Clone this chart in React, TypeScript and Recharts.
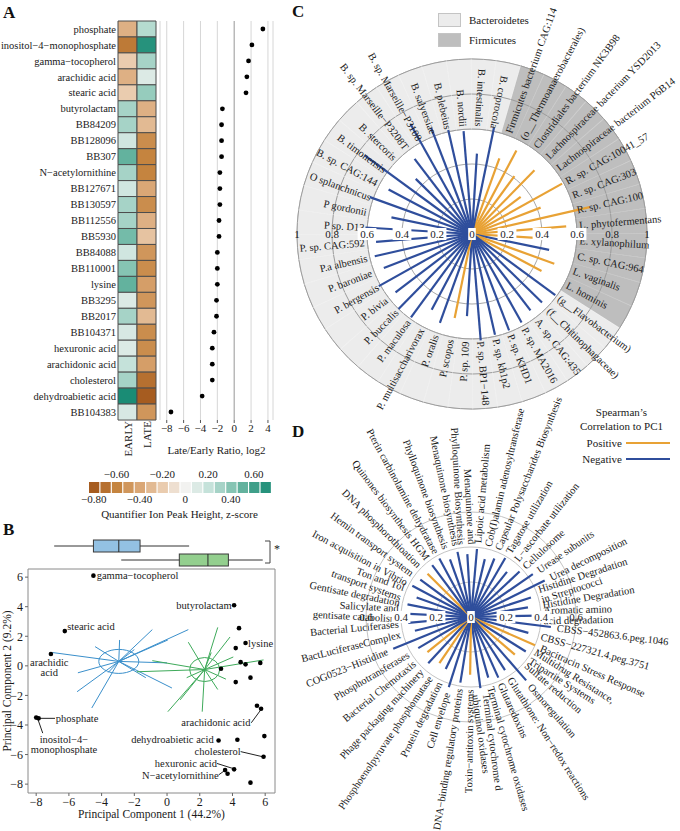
import React from 'react';
import {
  BarChart, Bar, XAxis, YAxis, Cell, ScatterChart, Scatter, CartesianGrid, ReferenceLine,
  ReferenceArea, ReferenceDot, ComposedChart, RadialBarChart, RadialBar,
  PolarAngleAxis, PolarRadiusAxis, PolarGrid, Label,
} from 'recharts';

const FONT = '"Liberation Serif", "Times New Roman", serif';
const BLUE = '#2F4E9C';
const ORANGE = '#E8A235';
const TXT = '#1a1a1a';

// ---------------- Panel A data ----------------
const A_NAMES = ['phosphate', 'inositol−4−monophosphate', 'gamma−tocopherol', 'arachidic acid', 'stearic acid', 'butyrolactam', 'BB84209', 'BB128096', 'BB307', 'N−acetylornithine', 'BB127671', 'BB130597', 'BB112556', 'BB5930', 'BB84088', 'BB110001', 'lysine', 'BB3295', 'BB2017', 'BB104371', 'hexuronic acid', 'arachidonic acid', 'cholesterol', 'dehydroabietic acid', 'BB104383'];
const A_Z_EARLY = [-0.35, -0.65, -0.2, -0.35, -0.2, 0.3, 0.3, 0.15, 0.5, 0.3, 0.15, 0.3, 0.3, 0.45, 0.15, 0.4, 0.5, 0.1, 0.3, 0.12, 0.1, 0.2, 0.3, 0.75, 0.12];
const A_Z_LATE = [0.25, 0.7, 0.3, 0.1, 0.35, -0.35, -0.3, -0.55, -0.6, -0.6, -0.4, -0.55, -0.35, -0.25, -0.5, -0.55, -0.45, -0.5, -0.3, -0.55, -0.55, -0.45, -0.7, -0.8, -0.5];
const A_LOG2 = [3.4, 2.1, 1.7, 1.5, 1.4, -1.4, -1.5, -1.5, -1.5, -1.7, -1.7, -1.7, -1.8, -1.8, -2.0, -2.0, -2.0, -2.1, -2.1, -2.4, -2.6, -2.6, -2.6, -3.8, -7.5];
const A_COLS = ['EARLY', 'LATE'];
const A_RATIO_TICKS = [-8, -6, -4, -2, 0, 2, 4];
const CBAR_CENTERS = [-0.8, -0.7, -0.6, -0.5, -0.4, -0.3, -0.2, -0.1, 0, 0.1, 0.2, 0.3, 0.4, 0.5, 0.6, 0.7];
const CBAR_TOP_TICKS = [-0.6, -0.2, 0.2, 0.6];
const CBAR_BOT_TICKS = [-0.8, -0.4, 0, 0.4];

// ---------------- Panel B data ----------------
const PCA_NAMES = ['gamma−tocopherol', 'butyrolactam', 'stearic acid', 'BB84209', 'lysine', 'BB128096', 'arachidic acid', 'BB307', 'BB127671', 'BB130597', 'BB112556', 'BB5930', 'BB84088', 'BB110001', 'arachidonic acid', 'phosphate', 'inositol−4−monophosphate', 'BB3295', 'dehydroabietic acid', 'BB2017', 'cholesterol', 'hexuronic acid', 'N−acetylornithine', 'BB104371', 'BB104383'];
const PC1 = [-4.5, 4.1, -6.25, 4.4, 4.8, 4.2, -7.1, 4.5, 4.8, 5.7, 3.3, 4.2, 5.1, 5.5, 5.75, -8.0, -7.85, 5.95, 3.15, 4.3, 5.9, 4.1, 3.55, 3.7, 5.1];
const PC2 = [6.1, 4.1, 2.35, 2.55, 1.55, 1.2, 0.8, 0.25, 0.1, 0.2, -0.2, -1.1, -0.8, -2.7, -2.9, -3.5, -3.55, -4.75, -5.05, -5.0, -6.15, -7.0, -7.05, -7.3, -7.9];

const LATE_CENTER = { x: -2.95, y: 0.3 };
const LATE_PC1 = [-7.0, -5.45, -5.5, -4.6, -3.6, -2.9, -1.3, 0.3, 0.0, 0.05, -0.9, 1.3, -4.4, -2.0];
const LATE_PC2 = [0.9, -0.47, -1.75, -2.85, -0.45, 1.75, -0.8, -1.5, 0.2, 1.75, 2.45, 2.45, 1.3, 1.1];
const EARLY_CENTER = { x: 2.3, y: -0.25 };
const EARLY_PC1 = [0.05, 2.15, 3.1, 5.9, -0.9, -1.85, 4.05, 1.3, 0.8, 3.1, 3.85, 2.7, 1.2, 3.6];
const EARLY_PC2 = [-3.1, -3.1, -1.6, 0.4, 0.35, -0.4, 0.6, 1.6, -2.3, 2.6, 1.95, 0.9, -0.8, -0.9];

const BOX_GROUPS = ['LATE', 'EARLY'];
const BOX_MIN = [-6.9, -2.8];
const BOX_Q1 = [-4.5, 0.75];
const BOX_MED = [-2.95, 2.5];
const BOX_Q3 = [-1.65, 3.75];
const BOX_MAX = [1.35, 5.85];
const PC_TICKS = [-8, -6, -4, -2, 0, 2, 4, 6];

const PCA_LABELS = [
  { text: 'gamma−tocopherol', x: -4.3, y: 6.1, anchor: 'start' },
  { text: 'butyrolactam', x: 3.95, y: 4.1, anchor: 'end' },
  { text: 'stearic acid', x: -6.1, y: 2.65, anchor: 'start' },
  { text: 'lysine', x: 4.95, y: 1.55, anchor: 'start' },
  { text: 'arachidic\nacid', x: -7.2, y: -0.1, anchor: 'middle' },
  { text: 'phosphate', x: -6.8, y: -3.55, anchor: 'start' },
  { text: 'inositol−4−\nmonophosphate', x: -6.3, y: -5.3, anchor: 'middle' },
  { text: 'arachidonic acid', x: 5.1, y: -3.85, anchor: 'end' },
  { text: 'dehydroabietic acid', x: 2.85, y: -4.95, anchor: 'end' },
  { text: 'cholesterol', x: 4.5, y: -5.8, anchor: 'end' },
  { text: 'hexuronic acid', x: 3.05, y: -6.6, anchor: 'end' },
  { text: 'N−acetylornithine', x: 3.15, y: -7.38, anchor: 'end' },
];
const PCA_LEADERS = [
  [-7.75, -3.55, -6.85, -3.55],
  [-7.9, -3.6, -7.6, -4.55],
  [5.75, -2.95, 5.15, -3.85],
  [5.85, -6.15, 4.5, -5.8],
  [3.05, -6.6, 4.05, -6.95],
  [3.15, -7.38, 3.5, -7.1],
];

// ---------------- Panel C data ----------------
const C_TAXA = ['Firmicutes bacterium CAG:114', '(o__Thermoanaerobacterales)', 'Clostridiales bacterium NK3B98', 'Lachnospiraceae bacterium YSD2013', 'Lachnospiraceae bacterium P6B14', 'R. sp. CAG:10041_57', 'R. sp. CAG:303', 'R. sp. CAG:100', 'L. phytofermentans', 'E. xylanophilum', 'C. sp. CAG:964', 'L. vaginalis', 'L. hominis',
  '(g__Flavobacterium)', '(f__Chitinophagaceae)', 'A. sp. CAG:435', 'P. sp. MA2016', 'P. sp. KHD1', 'P. sp. kh1p2', 'P. sp. BP1−148', 'P. sp. 109', 'P. scopos', 'P. oralis', 'P. multisaccharivorax', 'P. maculosa', 'P. buccalis', 'P. bivia', 'P. bergensis', 'P. baroniae', 'P.a albensis', 'P. sp. CAG:592', 'P sp. D13', 'P gordonii', 'O splanchnicus', 'B. sp. CAG:144', 'B. timonensis', 'B. stercoris', 'B. sp. Marseille−P3208T', 'B. sp. Marseille−P3108', 'B. salyersiae', 'B. plebeius', 'B. nordii', 'B. intestinalis', 'B. coprocola'];
const C_PHYLUM = ['Firmicutes', 'Firmicutes', 'Firmicutes', 'Firmicutes', 'Firmicutes', 'Firmicutes', 'Firmicutes', 'Firmicutes', 'Firmicutes', 'Firmicutes', 'Firmicutes', 'Firmicutes', 'Firmicutes',
  'Bacteroidetes', 'Bacteroidetes', 'Bacteroidetes', 'Bacteroidetes', 'Bacteroidetes', 'Bacteroidetes', 'Bacteroidetes', 'Bacteroidetes', 'Bacteroidetes', 'Bacteroidetes', 'Bacteroidetes', 'Bacteroidetes', 'Bacteroidetes', 'Bacteroidetes', 'Bacteroidetes', 'Bacteroidetes', 'Bacteroidetes', 'Bacteroidetes', 'Bacteroidetes', 'Bacteroidetes', 'Bacteroidetes', 'Bacteroidetes', 'Bacteroidetes', 'Bacteroidetes', 'Bacteroidetes', 'Bacteroidetes', 'Bacteroidetes', 'Bacteroidetes', 'Bacteroidetes', 'Bacteroidetes', 'Bacteroidetes'];
const C_RHO = [0.46, 0.54, 0.41, 0.51, 0.35, 0.59, 0.42, 0.69, 0.54, 0.43, -0.45, 0.5, 0.45,
  -0.59, -0.56, -0.55, -0.58, -0.59, -0.59, -0.61, -0.47, 0.49, -0.54, -0.49, -0.59, -0.6, -0.55, -0.61, -0.54, -0.57, -0.55, -0.61, -0.47, -0.62, -0.54, -0.76, -0.45, -0.54, -0.72, -0.65, -0.61, -0.59, -0.46, -0.62];
const PHYLA = ['Bacteroidetes', 'Firmicutes'];
const RADIAL_TICKS_C = [0, 0.2, 0.4, 0.6, 0.8, 1];

// ---------------- Panel D data ----------------
const D_FUNCS = ['Lipoic acid metabolism', 'Cob(I)alamin adenosyltransferase', 'Capsular Polysaccharides Biosynthesis', 'Tagatose utilization', 'L−ascorbate utilization', 'Cellulosome', 'Urease subunits', 'Urea decomposition', 'Histidine Degradation\nin Streptococci', 'Histidine Degradation', 'Aromatic amino\nacid degradation', 'CBSS−452863.6.peg.1046', 'CBSS−227321.4.peg.3751', 'Bacitracin Stress Response', 'Multidrug Resistance,\nTripartite Systems', 'Sulfate reduction', 'Osmoregulation', 'Glutathione: Non−redox reactions', 'Glutaredoxins', 'Terminal cytochrome oxidases', 'Terminal cytochrome d\nubiquinol oxidases', 'Toxin−antitoxin systems', 'DNA−binding regulatory proteins', 'Cell envelope', 'Protein degradation', 'Phosphoenolpyruvate phosphomutase', 'Phage packaging machinery', 'Bacterial Chemotaxis', 'Phosphotransferases', 'COG0523−Histidine', 'BactLuciferaseComplex', 'Bacterial Luciferases', 'Salicylate and\ngentisate catabolism', 'Gentisate degradation', 'Ton and Tol\ntransport systems', 'Iron acquisition in Vibrio', 'Hemin transport system', 'DNA phosphorothioation', 'Quinones biosynthesis HGM', 'Pterin carbinolamine dehydratase', 'Phylloquinone biosynthesis', 'Menaquinone biosynthesis', 'Menaquinone and\nPhylloquinone Biosynthesis'];
const D_RHO = [-0.39, -0.34, -0.36, -0.39, -0.33, -0.38, -0.43, -0.47, -0.36, -0.33, -0.38, -0.46, -0.34, 0.4, -0.37, 0.33, -0.48, -0.36, -0.38, -0.36, -0.41, 0.33, -0.38, -0.42, -0.33, 0.32, -0.36, 0.32, -0.35, -0.48, -0.33, -0.36, -0.38, -0.37, -0.33, -0.38, -0.36, 0.35, -0.37, -0.38, -0.35, -0.38, -0.36];
const RADIAL_TICKS_D = [0, 0.2, 0.4, 0.6];
const D_LEGEND = [{ label: 'Positive', color: ORANGE }, { label: 'Negative', color: BLUE }];

// ---------------- helpers ----------------
const BROWN_STOPS = ['#F2F2F0', '#EACCAF', '#DAA776', '#C5843F', '#A65C20'];
const TEAL_STOPS = ['#F2F2F0', '#C5E2DA', '#86C4B3', '#3F9F89', '#0D856E'];
function hexToRgb(h: string) { const n = parseInt(h.slice(1), 16); return [(n >> 16) & 255, (n >> 8) & 255, n & 255]; }
function mixHex(a: string, b: string, t: number) {
  const A = hexToRgb(a), B = hexToRgb(b);
  const c = A.map((v, i) => Math.round(v + (B[i] - v) * t));
  return 'rgb(' + c.join(',') + ')';
}
function zColor(v: number) {
  const stops = v < 0 ? BROWN_STOPS : TEAL_STOPS;
  const s = Math.min(Math.abs(v) / 0.2, stops.length - 1.0001);
  const i = Math.floor(s);
  return mixHex(stops[i], stops[i + 1], s - i);
}
const fmtMinus = (v: number) => (v < 0 ? '−' + Math.abs(v) : String(v));
const fmtBar = (v: number) => (Math.abs(v) < 1e-9 ? '0' : (v < 0 ? '−' : '') + Math.abs(v).toFixed(2));

const aRows = A_NAMES.map((name, i) => ({ name, early: A_Z_EARLY[i], late: A_Z_LATE[i], cellE: 1, cellL: 1, ratio: A_LOG2[i] }));
const cbarRows = CBAR_CENTERS.map((c) => ({ c, one: 1 }));
const CBAR_ALL_TICKS = [...CBAR_BOT_TICKS, ...CBAR_TOP_TICKS].sort((a, b) => a - b);
const pcaPoints = PCA_NAMES.map((name, i) => ({ name, x: PC1[i], y: PC2[i] }));
const boxRows = BOX_GROUPS.map((group, i) => ({ group, range: [BOX_Q1[i], BOX_Q3[i]], q1: BOX_Q1[i], med: BOX_MED[i], q3: BOX_Q3[i], min: BOX_MIN[i], max: BOX_MAX[i] }));
const BOX_FILL: Record<string, string> = { LATE: '#93C1E3', EARLY: '#93CF8E' };
const lateSpokes = LATE_PC1.map((x, i) => ({ x, y: LATE_PC2[i] }));
const earlySpokes = EARLY_PC1.map((x, i) => ({ x, y: EARLY_PC2[i] }));
const cRows = C_TAXA.map((name, i) => ({ name, rho: C_RHO[i], mag: Math.abs(C_RHO[i]), phylum: C_PHYLUM[i] }));
const dRows = D_FUNCS.map((name, i) => ({ name, rho: D_RHO[i], mag: Math.abs(D_RHO[i]) }));

// geometry (style)
const C_W = 400, C_H = 440, C_CX = 192, C_CY = 234, C_R = 175;
const C_START = 74;
const C_STEP = 360 / C_TAXA.length;
const D_TOP = 380;
const D_W = 400, D_H = 451, D_CX = 191, D_CY = 617 - D_TOP, D_R = 175;
const D_START = 89;
const D_STEP = 360 / D_FUNCS.length;
// compensate recharts' placement of the first centric band relative to startAngle
const C_CHART_START = C_START - C_STEP;
const D_CHART_START = D_START - D_STEP;
// number of categories whose labels read outward (right-hand side, from the start going clockwise to the bottom)
const C_RIGHT_COUNT = Math.round((C_START + 90) / C_STEP);
const D_RIGHT_COUNT = Math.round((D_START + 90) / D_STEP);
const PHYLUM_FILL: Record<string, string> = { Bacteroidetes: '#ECECEC', Firmicutes: '#BEBEBE' };

const normAngle = (a: number) => ((((a % 360) + 540) % 360) - 180);
function polar(cx: number, cy: number, r: number, a: number) {
  const rad = (-a * Math.PI) / 180;
  return [cx + r * Math.cos(rad), cy + r * Math.sin(rad)];
}
function arcD(cx: number, cy: number, r: number, a0: number, a1: number) {
  const [x0, y0] = polar(cx, cy, r, a0);
  const [x1, y1] = polar(cx, cy, r, a1);
  const sweep = a1 < a0 ? 1 : 0;
  return `M${x0},${y0} A${r},${r} 0 0 ${sweep} ${x1},${y1}`;
}
function annulusD(cx: number, cy: number, r0: number, r1: number, a0: number, a1: number) {
  const [x0, y0] = polar(cx, cy, r1, a0);
  const [x1, y1] = polar(cx, cy, r1, a1);
  const [x2, y2] = polar(cx, cy, r0, a1);
  const [x3, y3] = polar(cx, cy, r0, a0);
  const sweep = a1 < a0 ? 1 : 0;
  return `M${x0},${y0} A${r1},${r1} 0 0 ${sweep} ${x1},${y1} L${x2},${y2} A${r0},${r0} 0 0 ${1 - sweep} ${x3},${y3} Z`;
}

const rowOf = (p: any) => (p.payload && p.payload.name !== undefined ? p.payload : p);

const CRingShape = (p: any) => {
  const row = rowOf(p);
  const fill = PHYLUM_FILL[row.phylum];
  const a0 = p.startAngle, a1 = p.endAngle;
  return (
    <g>
      <path d={annulusD(p.cx, p.cy, C_R * 0.6, C_R, a0, a1)} fill={fill} stroke={fill} strokeWidth={0.6} />
      {[0.6, 0.8, 1].map((f) => <path key={f} d={arcD(p.cx, p.cy, C_R * f, a0, a1)} fill="none" stroke="#9c9c9c" strokeWidth={1} />)}
    </g>
  );
};

function makeSpokeShape(names: string[], rightCount: number, labelRadius: (outerPx: number) => number, fontSize: number) {
  return (p: any) => {
    const row = rowOf(p);
    const mid = (p.startAngle + p.endAngle) / 2;
    const [x2, y2] = polar(p.cx, p.cy, p.outerRadius, mid);
    const i = names.indexOf(row.name);
    const right = i < rightCount;
    const a = normAngle(mid);
    const r = labelRadius(p.outerRadius);
    const [lx, ly] = polar(p.cx, p.cy, r, mid);
    const rot = right ? -a : 180 - a;
    const lines = String(row.name).split('\n');
    return (
      <g>
        <line x1={p.cx} y1={p.cy} x2={x2} y2={y2} stroke={row.rho > 0 ? ORANGE : BLUE} strokeWidth={2.2} />
        <text x={lx} y={ly} transform={`rotate(${rot}, ${lx}, ${ly})`} textAnchor={right ? 'start' : 'end'} fontSize={fontSize} fill={TXT} fontFamily={FONT}>
          {lines.map((ln, k) => (
            <tspan key={k} x={lx} dy={k === 0 ? `${0.35 - (lines.length - 1) * 0.5}em` : '1em'}>{ln}</tspan>
          ))}
        </text>
      </g>
    );
  };
}
const CSpokeShape = makeSpokeShape(C_TAXA, C_RIGHT_COUNT, () => C_R * 0.615, 10.5);
const DSpokeShape = makeSpokeShape(D_FUNCS, D_RIGHT_COUNT, (o) => Math.max(o, 0.38 * D_R) + 0.035 * D_R, 10.5);

function makeRadTick(cx: number, bgMax: number) {
  return (props: any) => {
    const { x, y, payload } = props;
    const v = payload.value as number;
    const label = v === 0 ? '0' : String(v);
    const xs = v === 0 ? [x] : [x, 2 * cx - x];
    const w = label.length * 5.6 + 2;
    return (
      <g>
        {xs.map((xx: number, k: number) => (
          <g key={k}>
            {v <= bgMax && <rect x={xx - w / 2} y={y - 6} width={w} height={12} fill="#fff" />}
            <text x={xx} y={y} dy="0.35em" textAnchor="middle" fontSize={11} fill={TXT} fontFamily={FONT}>{label}</text>
          </g>
        ))}
      </g>
    );
  };
}

const ColTick = (p: any) => {
  const x = p.x + 4;
  const y = p.y - 7;
  return (
    <text x={x} y={y} transform={`rotate(-90, ${x}, ${y})`} textAnchor="end" fontSize={11} fill={TXT} fontFamily={FONT}>
      {A_COLS[Math.floor(p.payload.value)]}
    </text>
  );
};

const CbarTick = (p: any) => {
  const v = p.payload.value;
  const top = CBAR_TOP_TICKS.includes(v);
  return (
    <text x={p.x} y={top ? p.y - 17 : p.y + 8} textAnchor="middle" fontSize={11} fill={TXT} fontFamily={FONT}>{fmtBar(v)}</text>
  );
};

const BoxShape = (p: any) => {
  const { x, y, width, height, payload } = p;
  const mx = x + (width * (payload.med - payload.q1)) / (payload.q3 - payload.q1);
  return (
    <g>
      <rect x={x} y={y} width={width} height={height} fill={BOX_FILL[payload.group]} stroke="#3a3a3a" strokeWidth={1} />
      <line x1={mx} x2={mx} y1={y} y2={y + height} stroke="#2a2a2a" strokeWidth={1} />
    </g>
  );
};

const LabelShape = (p: any) => {
  const lines = String(p.payload.text).split('\n');
  return (
    <text x={p.cx} y={p.cy} textAnchor={p.payload.anchor} fontSize={10.5} fill={TXT} fontFamily={FONT}>
      {lines.map((ln: string, i: number) => (
        <tspan key={i} x={p.cx} dy={i === 0 ? `${0.35 - (lines.length - 1) * 0.5}em` : '1em'}>{ln}</tspan>
      ))}
    </text>
  );
};

const panelLetter = (t: string, left: number, top: number) => (
  <div style={{ position: 'absolute', left, top, fontFamily: FONT, fontWeight: 'bold', fontSize: 17, lineHeight: '17px', color: '#111' }}>{t}</div>
);

const abs = (left: number, top: number): React.CSSProperties => ({ position: 'absolute', left, top });

export default function App() {
  const tickStyle = { fontSize: 11, fill: TXT, fontFamily: FONT };
  return (
    <div style={{ position: 'absolute', left: 0, top: 0, width: 680, height: 831, background: '#fff', fontFamily: FONT, overflow: 'hidden' }}>
      {panelLetter('A', 3, 4)}
      {panelLetter('B', 3, 521)}
      {panelLetter('C', 292, 3)}
      {panelLetter('D', 292, 423)}

      {/* Panel A heatmap */}
      <div style={abs(0, 0)}>
        <BarChart width={160} height={460} layout="vertical" data={aRows} margin={{ top: 21, right: 4, bottom: 0, left: 0 }} barCategoryGap={0}>
          <XAxis type="number" domain={[0, 2]} ticks={[0.5, 1.5]} interval={0} height={40} axisLine={false} tickLine={false} tick={<ColTick />} />
          <YAxis type="category" dataKey="name" width={118} axisLine={false} tickLine={false} tickSize={0} tickMargin={2} interval={0}
            tick={(p: any) => <text x={p.x} y={p.y} dy="0.35em" textAnchor="end" fontSize={10.5} fill={TXT} fontFamily={FONT}>{p.payload.value}</text>} />
          <Bar dataKey="cellE" stackId="h" isAnimationActive={false} stroke="#4d4d4d" strokeWidth={1}>
            {aRows.map((r, i) => <Cell key={i} fill={zColor(r.early)} />)}
          </Bar>
          <Bar dataKey="cellL" stackId="h" isAnimationActive={false} stroke="#4d4d4d" strokeWidth={1}>
            {aRows.map((r, i) => <Cell key={i} fill={zColor(r.late)} />)}
          </Bar>
        </BarChart>
      </div>

      {/* Panel A dot plot */}
      <div style={abs(150, 0)}>
        <ScatterChart width={130} height={460} margin={{ top: 21, right: 7, bottom: 0, left: 10 }}>
          <CartesianGrid horizontal={false} stroke="#d6d6d6" />
          <XAxis type="number" dataKey="ratio" domain={[-8.8, 4.6]} ticks={A_RATIO_TICKS} interval={0} height={40} tickSize={3} tickMargin={1} axisLine={false} stroke="#555" tick={tickStyle} tickFormatter={fmtMinus}>
            <Label content={(lp: any) => {
              const vb = lp.viewBox || {};
              return <text x={vb.x + vb.width / 2} y={vb.y + 34} textAnchor="middle" fontSize={11} fill={TXT} fontFamily={FONT}>Late/Early Ratio, log2</text>;
            }} />
          </XAxis>
          <YAxis type="category" dataKey="name" hide reversed allowDuplicatedCategory={false} />
          <ReferenceLine x={0} stroke="#a8a8a8" />
          <Scatter data={aRows} isAnimationActive={false} shape={(p: any) => <circle cx={p.cx} cy={p.cy} r={2.4} fill="#000" />} />
        </ScatterChart>
      </div>

      {/* Panel A colour bar */}
      <div style={abs(0, 462)}>
        <ComposedChart width={290} height={62} data={cbarRows} margin={{ top: 20, right: 19, bottom: 0, left: 88 }} barCategoryGap={0}>
          <XAxis type="number" dataKey="c" domain={[-0.85, 0.75]} ticks={CBAR_ALL_TICKS} interval={0} height={31} tickSize={0} tickMargin={2} axisLine={false} tickLine={false} tick={<CbarTick />} allowDataOverflow>
            <Label content={(lp: any) => {
              const vb = lp.viewBox || {};
              return <text x={vb.x + vb.width / 2} y={vb.y + 25} textAnchor="middle" fontSize={11} fill={TXT} fontFamily={FONT}>Quantifier Ion Peak Height, z-score</text>;
            }} />
          </XAxis>
          <YAxis type="number" domain={[0, 1]} hide allowDataOverflow />
          <Bar dataKey="one" barSize={11.6} isAnimationActive={false}>
            {cbarRows.map((b, i) => <Cell key={i} fill={zColor(b.c)} />)}
          </Bar>
        </ComposedChart>
      </div>

      {/* Panel B box plots */}
      <div style={abs(0, 533)}>
        <BarChart width={290} height={34} layout="vertical" data={boxRows} margin={{ top: 6, right: 15, bottom: 0, left: 28 }} barSize={12}>
          <XAxis type="number" domain={[-8.5, 6.6]} hide allowDataOverflow />
          <YAxis type="category" dataKey="group" width={0} axisLine={false} tickLine={false}
            tick={(p: any) => <text x={48} y={p.y} dy="0.35em" textAnchor="end" fontSize={11.5} fill={TXT} fontFamily={FONT}>{p.payload.value}</text>} />
          {boxRows.map((b, i) => (
            <ReferenceLine key={'wl' + i} segment={[{ x: b.min, y: b.group }, { x: b.q1, y: b.group }]} stroke="#333" strokeWidth={1} />
          ))}
          {boxRows.map((b, i) => (
            <ReferenceLine key={'wr' + i} segment={[{ x: b.q3, y: b.group }, { x: b.max, y: b.group }]} stroke="#333" strokeWidth={1} />
          ))}
          <Bar dataKey="range" isAnimationActive={false} shape={BoxShape} />
        </BarChart>
      </div>
      <svg style={abs(262, 537)} width={24} height={32}>
        <path d="M3,4 H8 V26 H3" fill="none" stroke="#444" strokeWidth={1} />
        <text x={12} y={16} fontSize={12} fill={TXT} fontFamily={FONT}>*</text>
      </svg>

      {/* Panel B PCA scatter */}
      <div style={abs(0, 560)}>
        <ScatterChart width={290} height={271} margin={{ top: 9, right: 15, bottom: 0, left: 0 }}>
          <XAxis type="number" dataKey="x" domain={[-8.5, 6.6]} ticks={PC_TICKS} interval={0} height={38} tickSize={3} tickMargin={1} axisLine={false} stroke="#666" tick={{ ...tickStyle, fontSize: 12 }} tickFormatter={fmtMinus} allowDataOverflow>
            <Label content={(lp: any) => {
              const vb = lp.viewBox || {};
              return <text x={vb.x + vb.width / 2} y={vb.y + 25} textAnchor="middle" fontSize={11.5} fill={TXT} fontFamily={FONT}>Principal Component 1 (44.2%)</text>;
            }} />
          </XAxis>
          <YAxis type="number" dataKey="y" domain={[-8.6, 6.55]} ticks={PC_TICKS} interval={0} width={28} tickSize={3} tickMargin={2} axisLine={false} stroke="#666" tick={{ ...tickStyle, fontSize: 12 }} tickFormatter={fmtMinus} allowDataOverflow>
            <Label content={(lp: any) => {
              const vb = lp.viewBox || {};
              const x = vb.x + 7, y = vb.y + vb.height / 2;
              return <text x={x} y={y} transform={`rotate(-90, ${x}, ${y})`} dy="0.35em" textAnchor="middle" fontSize={11.5} fill={TXT} fontFamily={FONT}>Principal Component 2 (9.2%)</text>;
            }} />
          </YAxis>
          <ReferenceArea x1={-8.5} x2={6.6} y1={-8.6} y2={6.55} fill="none" fillOpacity={0} stroke="#8a8a8a" strokeWidth={1} />
          {lateSpokes.map((s, i) => (
            <ReferenceLine key={'ls' + i} segment={[LATE_CENTER, s]} stroke="#3A8FCB" strokeWidth={1} ifOverflow="visible" />
          ))}
          {earlySpokes.map((s, i) => (
            <ReferenceLine key={'es' + i} segment={[EARLY_CENTER, s]} stroke="#3EAA5A" strokeWidth={1} ifOverflow="visible" />
          ))}
          <ReferenceDot x={LATE_CENTER.x} y={LATE_CENTER.y} r={1} shape={(p: any) => <ellipse cx={p.cx} cy={p.cy} rx={20} ry={12} fill="none" stroke="#3A8FCB" strokeWidth={1} />} />
          <ReferenceDot x={EARLY_CENTER.x} y={EARLY_CENTER.y} r={1} shape={(p: any) => <ellipse cx={p.cx} cy={p.cy} rx={15} ry={12} fill="none" stroke="#3EAA5A" strokeWidth={1} />} />
          {PCA_LEADERS.map((l, i) => (
            <ReferenceLine key={'ld' + i} segment={[{ x: l[0], y: l[1] }, { x: l[2], y: l[3] }]} stroke="#222" strokeWidth={1} ifOverflow="visible" />
          ))}
          <Scatter data={pcaPoints} isAnimationActive={false} shape={(p: any) => <circle cx={p.cx} cy={p.cy} r={2.3} fill="#000" />} />
          <Scatter data={PCA_LABELS} isAnimationActive={false} shape={LabelShape} />
        </ScatterChart>
      </div>

      {/* Panel C ring + grid */}
      <div style={abs(280, 0)}>
        <RadialBarChart width={C_W} height={C_H} data={cRows} layout="centric" cx={C_CX} cy={C_CY} innerRadius={0} outerRadius={C_R}
          startAngle={C_CHART_START} endAngle={C_CHART_START - 360} barCategoryGap={0} margin={{ top: 0, right: 0, bottom: 0, left: 0 }}>
          <PolarGrid gridType="circle" radialLines={false} stroke="#a6a6a6" />
          <PolarAngleAxis type="category" dataKey="name" axisLine={false} tickLine={false} tick={false} />
          <PolarRadiusAxis type="number" domain={[0, 1]} ticks={RADIAL_TICKS_C} angle={0} axisLine={false} tickLine={false} tick={false} allowDataOverflow />
          <RadialBar dataKey="mag" isAnimationActive={false} shape={CRingShape} />
        </RadialBarChart>
      </div>
      {/* Panel C radial lines and labels */}
      <div style={abs(280, 0)}>
        <RadialBarChart width={C_W} height={C_H} data={cRows} layout="centric" cx={C_CX} cy={C_CY} innerRadius={0} outerRadius={C_R}
          startAngle={C_CHART_START} endAngle={C_CHART_START - 360} margin={{ top: 0, right: 0, bottom: 0, left: 0 }}>
          <PolarAngleAxis type="category" dataKey="name" axisLine={false} tickLine={false} tick={false} />
          <RadialBar dataKey="mag" isAnimationActive={false} shape={CSpokeShape} />
          <PolarRadiusAxis type="number" domain={[0, 1]} ticks={RADIAL_TICKS_C} angle={0} axisLine={false} tickLine={false} tick={makeRadTick(C_CX, 0.6)} allowDataOverflow />
        </RadialBarChart>
      </div>
      {/* Panel C legend */}
      <div style={{ position: 'absolute', left: 438, top: 12, fontFamily: FONT, fontSize: 11, color: TXT }}>
        {PHYLA.map((p) => (
          <div key={p} style={{ display: 'flex', alignItems: 'center', height: 15, marginBottom: 5 }}>
            <span style={{ display: 'inline-block', width: 23, height: 14, background: PHYLUM_FILL[p], border: '1px solid #c4c4c4', boxSizing: 'border-box' }} />
            <span style={{ marginLeft: 8 }}>{p}</span>
          </div>
        ))}
      </div>

      {/* Panel D radial lines */}
      <div style={abs(280, D_TOP)}>
        <RadialBarChart width={D_W} height={D_H} data={dRows} layout="centric" cx={D_CX} cy={D_CY} innerRadius={0} outerRadius={D_R}
          startAngle={D_CHART_START} endAngle={D_CHART_START - 360} margin={{ top: 0, right: 0, bottom: 0, left: 0 }}>
          <PolarGrid gridType="circle" radialLines={false} stroke="#c4c4c4" />
          <PolarAngleAxis type="category" dataKey="name" axisLine={false} tickLine={false} tick={false} />
          <RadialBar dataKey="mag" isAnimationActive={false} shape={DSpokeShape} />
          <PolarRadiusAxis type="number" domain={[0, 1]} ticks={RADIAL_TICKS_D} angle={0} axisLine={false} tickLine={false} tick={makeRadTick(D_CX, 0.4)} allowDataOverflow />
        </RadialBarChart>
      </div>
      {/* Panel D legend */}
      <div style={{ position: 'absolute', left: 573, top: 405, width: 97, fontFamily: FONT, fontSize: 11, color: TXT, lineHeight: '14px' }}>
        <div style={{ textAlign: 'center' }}>Spearman’s</div>
        <div style={{ textAlign: 'center', marginBottom: 2 }}>Correlation to PC1</div>
        {D_LEGEND.map((l) => (
          <div key={l.label} style={{ display: 'flex', alignItems: 'center', height: 16 }}>
            <span style={{ flex: 1, textAlign: 'right' }}>{l.label}</span>
            <span style={{ display: 'inline-block', width: 44, height: 2, background: l.color, marginLeft: 4 }} />
          </div>
        ))}
      </div>
    </div>
  );
}
